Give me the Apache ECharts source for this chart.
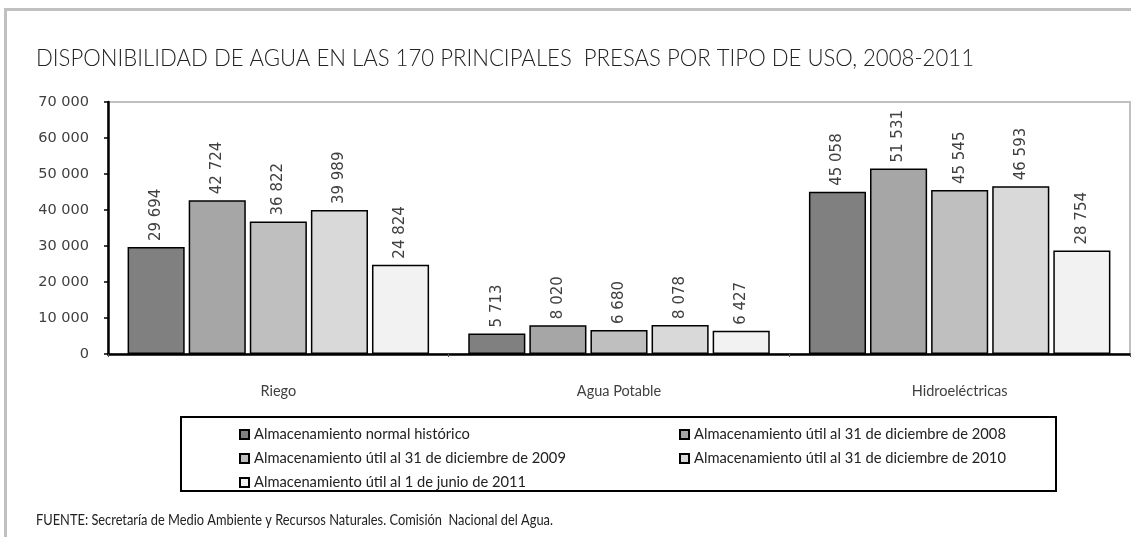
<!DOCTYPE html>
<html>
<head>
<meta charset="utf-8">
<script src="https://cdn.jsdelivr.net/npm/echarts@6/dist/echarts.min.js"></script>
<style>
  html, body { margin: 0; padding: 0; background: #ffffff; }
  #chart { width: 1131px; height: 537px; }
</style>
</head>
<body>
<div id="chart"></div>
<script>
// Uso de las presas
const categories = ['Riego', 'Agua Potable', 'Hidroeléctricas'];

// Series: almacenamiento (hm³) por tipo de uso
const seriesNames = [
  'Almacenamiento normal histórico',
  'Almacenamiento útil al 31 de diciembre de 2008',
  'Almacenamiento útil al 31 de diciembre de 2009',
  'Almacenamiento útil al 31 de diciembre de 2010',
  'Almacenamiento útil al 1 de junio de 2011'
];
const normalHistorico = [29694, 5713, 45058];
const util2008 = [42724, 8020, 51531];
const util2009 = [36822, 6680, 45545];
const util2010 = [39989, 8078, 46593];
const util2011 = [24824, 6427, 28754];
const seriesValues = [normalHistorico, util2008, util2009, util2010, util2011];
const seriesColors = ['#808080', '#a6a6a6', '#bfbfbf', '#d9d9d9', '#f2f2f2'];

const titleText = 'DISPONIBILIDAD DE AGUA EN LAS 170 PRINCIPALES  PRESAS POR TIPO DE USO, 2008-2011';
const sourceText = 'FUENTE: Secretaría de Medio Ambiente y Recursos Naturales. Comisión  Nacional del Agua.';

// miles separados por espacio: 42724 -> "42 724"
function fmt(v) {
  return String(v).replace(/\B(?=(\d{3})+(?!\d))/g, ' ');
}

// ancho de un texto, para comprimir horizontalmente título y fuente
const measureCtx = document.createElement('canvas').getContext('2d');
function textWidth(text, font) {
  measureCtx.font = font;
  return measureCtx.measureText(text).width;
}

const titleFont = { size: 24, weight: 300, family: 'Lato' };
const titleScale = 938 / textWidth(titleText, `${titleFont.weight} ${titleFont.size}px ${titleFont.family}`);
const sourceFont = { size: 15, weight: 'normal', family: 'Lato' };
const sourceScale = 517 / textWidth(sourceText, `${sourceFont.weight} ${sourceFont.size}px ${sourceFont.family}`);

const chart = echarts.init(document.getElementById('chart'), null, { renderer: 'canvas' });

const series = seriesValues.map((vals, i) => ({
  name: seriesNames[i],
  type: 'bar',
  data: vals,
  barCategoryGap: '11.5%',
  barGap: '7%',
  itemStyle: { color: seriesColors[i], borderColor: '#000000', borderWidth: 1.5 },
  label: {
    show: true,
    position: 'top',
    distance: 6,
    rotate: 90,
    align: 'left',
    verticalAlign: 'middle',
    formatter: p => fmt(p.value),
    fontFamily: 'DejaVu Sans',
    fontSize: 15,
    color: '#404040'
  },
  emphasis: { disabled: true },
  animation: false
}));

const legendCommon = {
  orient: 'vertical',
  icon: 'rect',
  itemWidth: 9,
  itemHeight: 9,
  itemGap: 9,
  selectedMode: false,
  textStyle: { fontFamily: 'Lato', fontSize: 14.7, color: '#222222' }
};

chart.setOption({
  animation: false,
  backgroundColor: '#ffffff',
  grid: {
    left: 108,
    right: 1,
    top: 102,
    bottom: 183,
    show: true,
    borderColor: '#c0c0c0',
    borderWidth: 2,
    backgroundColor: 'transparent'
  },
  legend: [
    Object.assign({}, legendCommon, { left: 234, top: 422, data: [seriesNames[0], seriesNames[2], seriesNames[4]] }),
    Object.assign({}, legendCommon, { left: 674, top: 422, data: [seriesNames[1], seriesNames[3]] })
  ],
  xAxis: {
    type: 'category',
    data: categories,
    axisLine: { lineStyle: { color: '#000000', width: 2.5 } },
    axisTick: { show: true, length: 3, lineStyle: { color: '#555555', width: 1 } },
    axisLabel: { margin: 30, fontFamily: 'Lato', fontSize: 14.5, color: '#404040' }
  },
  yAxis: {
    type: 'value',
    min: 0,
    max: 70000,
    interval: 10000,
    axisLine: { show: true, lineStyle: { color: '#000000', width: 2.5 } },
    axisTick: { show: true, length: 4, lineStyle: { color: '#000000', width: 1.5 } },
    splitLine: { show: false },
    axisLabel: {
      margin: 19,
      formatter: v => fmt(v),
      fontFamily: 'DejaVu Sans',
      fontSize: 14.5,
      color: '#404040'
    }
  },
  graphic: [
    // marco de página
    { type: 'line', shape: { x1: 4, y1: 9.5, x2: 1131, y2: 9.5 }, style: { stroke: '#c0c0c0', lineWidth: 3 }, silent: true },
    { type: 'line', shape: { x1: 5.5, y1: 8, x2: 5.5, y2: 537 }, style: { stroke: '#c0c0c0', lineWidth: 3 }, silent: true },
    // título
    {
      type: 'text', x: 36, y: 58, scaleX: titleScale, silent: true,
      style: {
        text: titleText, fontFamily: titleFont.family, fontWeight: titleFont.weight,
        fontSize: titleFont.size, fill: '#222222', verticalAlign: 'middle'
      }
    },
    // recuadro de la leyenda
    { type: 'rect', shape: { x: 181, y: 417, width: 875, height: 74 }, style: { fill: 'none', stroke: '#000000', lineWidth: 2 }, silent: true, z: -1 },
    // fuente
    {
      type: 'text', x: 36, y: 520, scaleX: sourceScale, silent: true,
      style: {
        text: sourceText, fontFamily: sourceFont.family, fontWeight: sourceFont.weight,
        fontSize: sourceFont.size, fill: '#222222', verticalAlign: 'middle'
      }
    }
  ],
  series: series
});
</script>
</body>
</html>
